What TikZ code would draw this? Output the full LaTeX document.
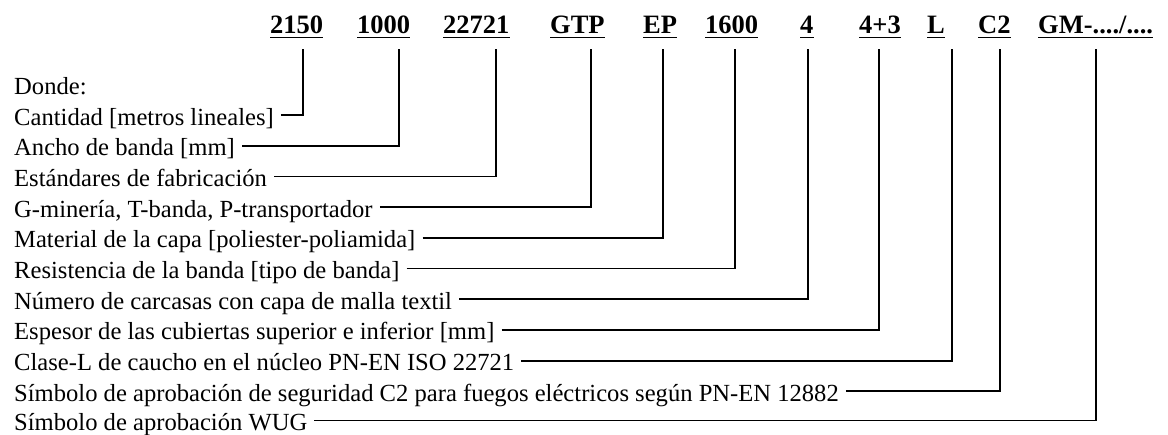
\documentclass[tikz,border=0pt]{standalone}
\usepackage{fontspec}
\setmainfont{Liberation Serif}
\usetikzlibrary{calc}
\begin{document}
\begin{tikzpicture}[x=1pt,y=-1pt,
  hdr/.style={anchor=base west,inner sep=0pt,font=\fontsize{26.5}{30}\selectfont\bfseries,
    append after command={[line width=1.8pt] ($(\tikzlastnode.base west)+(0,4)$) edge ($(\tikzlastnode.base east)+(0,4)$)}},
  lbl/.style={anchor=base west,inner sep=0pt,font=\fontsize{24.6}{28}\selectfont},
  conn/.style={line width=1.8pt}]
\useasboundingbox (0,0) rectangle (1168,434);
% headers
\node[hdr] (h1) at (270,33) {2150};
\node[hdr] (h2) at (357,33) {1000};
\node[hdr] (h3) at (443,33) {22721};
\node[hdr] (h4) at (550,33) {GTP};
\node[hdr] (h5) at (643,33) {EP};
\node[hdr] (h6) at (705,33) {1600};
\node[hdr] (h7) at (800,33) {4};
\node[hdr] (h8) at (859,33) {4+3};
\node[hdr] (h9) at (927,33) {L};
\node[hdr] (h10) at (978,33) {C2};
\node[hdr] (h11) at (1038,33) {GM-..../....};
% top ends of connectors
\coordinate (c1) at (303,49);
\coordinate (c2) at (399,49);
\coordinate (c3) at (496,49);
\coordinate (c4) at (591,49);
\coordinate (c5) at (663,49);
\coordinate (c6) at (735,49);
\coordinate (c7) at (808,49);
\coordinate (c8) at (879,49);
\coordinate (c9) at (952,49);
\coordinate (c10) at (1000,49);
\coordinate (c11) at (1096,49);
% labels
\node[lbl] (d0) at (14,94) {Donde:};
\node[lbl] (t1) at (14,125) {Cantidad [metros lineales]};
\node[lbl] (t2) at (14,155.7) {Ancho de banda [mm]};
\node[lbl] (t3) at (14,186.4) {Estándares de fabricación};
\node[lbl] (t4) at (14,217.1) {G-minería, T-banda, P-transportador\ };
\node[lbl] (t5) at (14,247.8) {Material de la capa [poliester-poliamida]};
\node[lbl] (t6) at (14,278.5) {Resistencia de la banda [tipo de banda]};
\node[lbl] (t7) at (14,309.2) {Número de carcasas con capa de malla textil};
\node[lbl] (t8) at (14,339.9) {Espesor de las cubiertas superior e inferior [mm]};
\node[lbl] (t9) at (14,370.6) {Clase-L de caucho en el núcleo PN-EN ISO 22721};
\node[lbl] (t10) at (14,401.3) {Símbolo de aprobación de seguridad C2 para fuegos eléctricos según PN-EN 12882};
\node[lbl] (t11) at (14,430.5) {Símbolo de aprobación WUG};
% connectors
\foreach \i in {1,...,11}{
  \draw[conn] ($(t\i.base east)+(7,-10)$) -| (c\i);
}
\end{tikzpicture}
\end{document}
